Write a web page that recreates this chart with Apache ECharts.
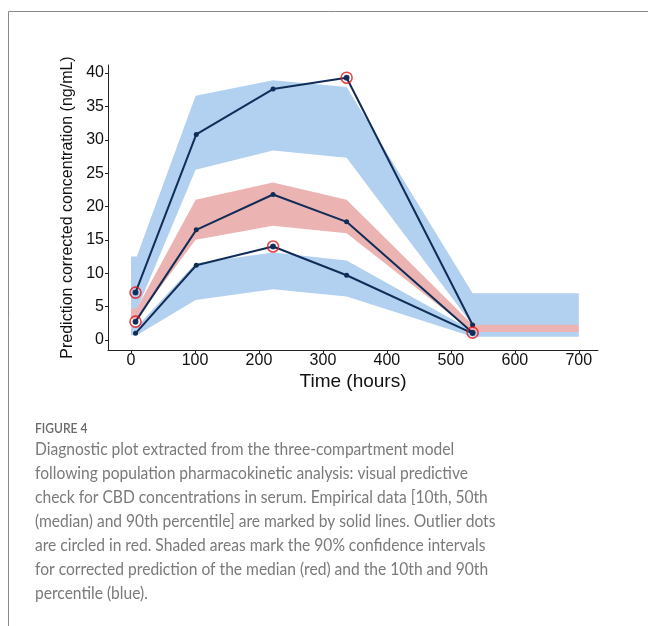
<!DOCTYPE html>
<html>
<head>
<meta charset="utf-8">
<style>
html,body{margin:0;padding:0;background:#fff;}
#chart{width:648px;height:626px;}
</style>
<script src="https://cdn.jsdelivr.net/npm/echarts@6/dist/echarts.min.js"></script>
</head>
<body>
<div id="chart"></div>
<script>
// ---- data ----
var xTicks = [0, 100, 200, 300, 400, 500, 600, 700];
var yTicks = [0, 5, 10, 15, 20, 25, 30, 35, 40];

var obsTime = [7, 102, 222, 337, 534];
var p90 = [7.1, 30.8, 37.6, 39.3, 2.25];
var p50 = [2.75, 16.5, 21.8, 17.7, 1.1];
var p10 = [1.0, 11.2, 14.0, 9.7, 1.0];

var outlierTime = [7, 337, 7, 534, 222];
var outlierValue = [7.1, 39.3, 2.75, 1.1, 14.0];

var bandTime = [0, 9, 101, 222, 337, 534, 700];
var upperBandLo = [4.5, 4.5, 25.5, 28.4, 27.3, 2.2, 2.2];
var upperBandHi = [12.5, 12.5, 36.6, 38.9, 37.9, 7.0, 7.0];
var medBandLo = [3.2, 3.2, 15.0, 17.1, 16.0, 1.2, 1.2];
var medBandHi = [4.7, 4.7, 21.0, 23.6, 21.0, 2.3, 2.3];
var lowBandLo = [0.7, 0.7, 6.0, 7.6, 6.5, 0.5, 0.5];
var lowBandHi = [2.0, 2.0, 11.5, 13.1, 11.9, 1.4, 1.4];

var captionTitle = 'FIGURE 4';
var captionLines = [
  'Diagnostic plot extracted from the three-compartment model',
  'following population pharmacokinetic analysis: visual predictive',
  'check for CBD concentrations in serum. Empirical data [10th, 50th',
  '(median) and 90th percentile] are marked by solid lines. Outlier dots',
  'are circled in red. Shaded areas mark the 90% confidence intervals',
  'for corrected prediction of the median (red) and the 10th and 90th',
  'percentile (blue).'
];

// ---- helpers ----
function zip(xs, ys) { return xs.map(function (x, i) { return [x, ys[i]]; }); }
function bandSeries(lo, hi, color) {
  return {
    type: 'custom',
    silent: true,
    data: [[bandTime[0], lo[0]]],
    renderItem: function (params, api) {
      var pts = [];
      for (var i = 0; i < bandTime.length; i++) pts.push(api.coord([bandTime[i], hi[i]]));
      for (var j = bandTime.length - 1; j >= 0; j--) pts.push(api.coord([bandTime[j], lo[j]]));
      return { type: 'polygon', shape: { points: pts }, style: { fill: color } };
    },
    z: 1
  };
}
var NAVY = '#102d58';
function lineSeries(vals) {
  return {
    type: 'line', data: zip(obsTime, vals), symbol: 'circle', symbolSize: 5,
    lineStyle: { color: NAVY, width: 2 }, itemStyle: { color: NAVY },
    silent: true, z: 5, animation: false
  };
}

var FONT = '"Liberation Sans", Arial, sans-serif';
var CAPFONT = 'Lato, "Open Sans", sans-serif';

var graphics = [
  { type: 'line', shape: { x1: 8.5, y1: 11.5, x2: 648, y2: 11.5 }, style: { stroke: '#8a8a8a', lineWidth: 1 } },
  { type: 'line', shape: { x1: 8.5, y1: 11.5, x2: 8.5, y2: 626 }, style: { stroke: '#8a8a8a', lineWidth: 1 } },
  { type: 'text', x: 35, y: 428, scaleX: 0.86, style: { text: captionTitle, font: '600 14px ' + CAPFONT, fill: '#6b6b6b', textVerticalAlign: 'middle' } }
];
captionLines.forEach(function (t, i) {
  graphics.push({ type: 'text', x: 35, y: 450 + i * 24, scaleX: 0.917, style: { text: t, font: '17px ' + CAPFONT, fill: '#7a7a7a', textVerticalAlign: 'middle' } });
});

var chart = echarts.init(document.getElementById('chart'), null, { renderer: 'canvas' });
chart.setOption({
  animation: false,
  backgroundColor: '#fff',
  grid: { left: 108, top: 65, right: 50, bottom: 276, containLabel: false, outerBoundsMode: 'none' },
  xAxis: {
    type: 'value', min: -36, max: 730,
    splitLine: { show: false },
    axisLine: { show: true, onZero: false, lineStyle: { color: '#222', width: 1 } },
    axisTick: { show: true, length: 3, customValues: xTicks, lineStyle: { color: '#222' } },
    axisLabel: { customValues: xTicks, fontSize: 16, color: '#111', margin: 3, fontFamily: FONT },
    name: 'Time (hours)', nameLocation: 'middle', nameGap: 22,
    nameTextStyle: { fontSize: 19, color: '#111', fontFamily: FONT }
  },
  yAxis: {
    type: 'value', min: -1.5, max: 41.2,
    splitLine: { show: false },
    axisLine: { show: true, onZero: false, lineStyle: { color: '#222', width: 1 } },
    axisTick: { show: true, length: 3, customValues: yTicks, lineStyle: { color: '#222' } },
    axisLabel: { customValues: yTicks, fontSize: 16, color: '#111', margin: 4, fontFamily: FONT },
    name: 'Prediction corrected concentration (ng/mL)', nameLocation: 'middle', nameGap: 28,
    nameTextStyle: { fontSize: 16, color: '#111', fontFamily: FONT }
  },
  series: [
    bandSeries(upperBandLo, upperBandHi, '#b2d0ef'),
    bandSeries(lowBandLo, lowBandHi, '#b2d0ef'),
    bandSeries(medBandLo, medBandHi, '#ecb3b3'),
    lineSeries(p90),
    lineSeries(p50),
    lineSeries(p10),
    {
      type: 'scatter', data: zip(outlierTime, outlierValue), symbol: 'circle', symbolSize: 11,
      itemStyle: { color: 'rgba(0,0,0,0)', borderColor: '#e3171c', borderWidth: 1.6 },
      silent: true, z: 6
    },
    {
      type: 'scatter', data: zip(outlierTime, outlierValue), symbol: 'circle', symbolSize: 6,
      itemStyle: { color: NAVY }, silent: true, z: 7
    }
  ],
  graphic: graphics
});
</script>
</body>
</html>
